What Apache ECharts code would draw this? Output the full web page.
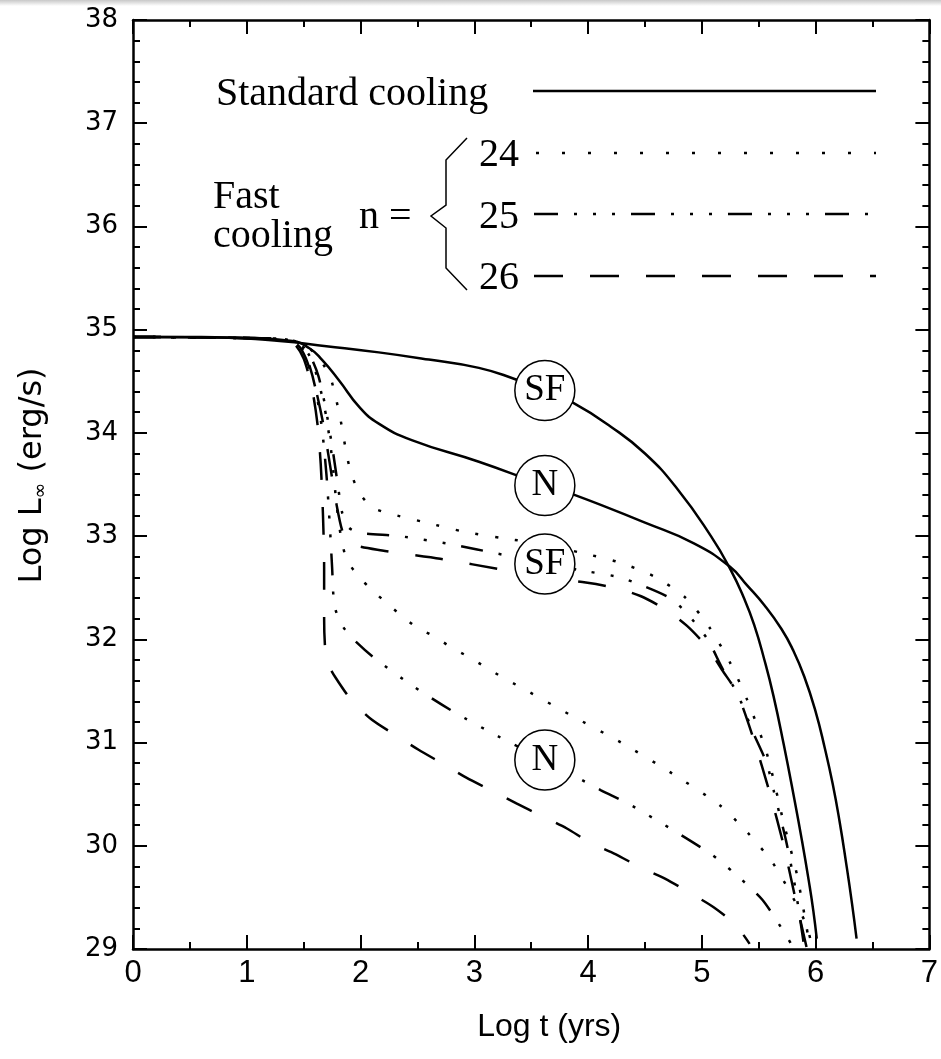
<!DOCTYPE html>
<html>
<head>
<meta charset="utf-8">
<script src="https://cdn.jsdelivr.net/npm/echarts@6/dist/echarts.min.js"></script>
<style>
html,body{margin:0;padding:0;background:#fff;}
#chart{width:941px;height:1059px;}
</style>
</head>
<body>
<div id="chart"></div>
<script>
// ---- data (Log t in yrs, Log L_inf in erg/s) ----
const xTicks = [0,1,2,3,4,5,6,7];
const yTicks = [29,30,31,32,33,34,35,36,37,38];

const stdSF = [[0,34.93],[0.6,34.93],[1.29,34.89],[1.7,34.84],[2.16,34.78],[2.6,34.71],[3.04,34.63],[3.36,34.52],[3.62,34.41],[3.87,34.29],[4.2,34.06],[4.5,33.80],[4.79,33.45],[5.08,33.00],[5.25,32.68],[5.37,32.40],[5.46,32.14],[5.55,31.80],[5.63,31.45],[5.72,30.98],[5.81,30.47],[5.88,30.05],[5.94,29.66],[5.98,29.37],[6.01,29.10]];
const stdN = [[0,34.93],[1,34.92],[1.4,34.89],[1.55,34.82],[1.66,34.71],[1.81,34.51],[1.99,34.25],[2.16,34.09],[2.45,33.93],[3.04,33.72],[3.62,33.49],[3.88,33.40],[4.5,33.13],[4.93,32.93],[5.25,32.70],[5.4,32.52],[5.55,32.33],[5.7,32.10],[5.8,31.90],[5.9,31.64],[6.0,31.30],[6.08,30.95],[6.15,30.60],[6.21,30.24],[6.27,29.82],[6.32,29.44],[6.36,29.10]];

const n24SF = [[0,34.93],[1.3,34.91],[1.45,34.88],[1.55,34.82],[1.65,34.7],[1.74,34.52],[1.82,34.15],[1.88,33.78],[1.92,33.60],[1.99,33.42],[2.10,33.28],[2.25,33.22],[2.58,33.13],[2.92,33.04],[3.25,32.98],[3.62,32.92],[3.93,32.84],[4.26,32.75],[4.58,32.61],[4.86,32.40],[5.07,32.11],[5.25,31.77],[5.40,31.41],[5.57,30.90],[5.72,30.22],[5.84,29.70],[5.95,29.02]];
const n25SF = [[0,34.93],[1.3,34.91],[1.45,34.87],[1.55,34.76],[1.63,34.55],[1.7,34.2],[1.76,33.8],[1.8,33.5],[1.84,33.22],[1.9,33.08],[2.0,33.03],[2.34,33.0],[2.8,32.92],[3.25,32.82],[3.62,32.74],[3.93,32.67],[4.24,32.61],[4.41,32.55],[4.72,32.40],[4.87,32.25],[5.05,32.0],[5.18,31.72],[5.31,31.48],[5.45,31.1],[5.57,30.80],[5.63,30.54],[5.74,30.05],[5.82,29.6],[5.9,29.02]];
const n26SF = [[0,34.93],[1.3,34.91],[1.45,34.85],[1.52,34.72],[1.6,34.45],[1.67,34.1],[1.73,33.7],[1.79,33.3],[1.84,33.05],[1.9,32.93],[2.19,32.86],[2.7,32.78],[3.27,32.67],[3.62,32.6],[3.98,32.55],[4.23,32.50],[4.46,32.42],[4.68,32.29],[4.87,32.13],[5.05,31.92],[5.18,31.70],[5.31,31.48],[5.45,31.05],[5.6,30.5],[5.72,30.0],[5.82,29.5],[5.92,29.02]];

const n24N = [[0,34.93],[1.3,34.91],[1.45,34.87],[1.55,34.75],[1.63,34.5],[1.7,34.15],[1.75,33.75],[1.79,33.3],[1.83,32.98],[1.88,32.77],[1.99,32.60],[2.10,32.48],[2.23,32.35],[2.36,32.23],[2.49,32.12],[2.66,32.02],[2.80,31.92],[2.95,31.83],[3.10,31.73],[3.25,31.63],[3.40,31.54],[3.84,31.27],[4.29,31.0],[4.74,30.70],[5.16,30.39],[5.40,30.13],[5.62,29.84],[5.79,29.52],[5.92,29.23],[5.97,29.02]];
const n25N = [[0,34.93],[1.3,34.91],[1.45,34.86],[1.53,34.72],[1.6,34.45],[1.66,34.05],[1.7,33.6],[1.73,33.1],[1.75,32.7],[1.77,32.33],[1.83,32.15],[1.92,32.02],[2.12,31.82],[2.47,31.54],[2.83,31.29],[3.21,31.06],[3.62,30.83],[4.11,30.54],[4.35,30.41],[4.72,30.17],[5.08,29.92],[5.28,29.74],[5.53,29.48],[5.73,29.15],[5.8,29.02]];
const n26N = [[0,34.93],[1.3,34.91],[1.42,34.86],[1.5,34.72],[1.57,34.45],[1.62,34.1],[1.65,33.7],[1.67,33.2],[1.68,32.7],[1.68,32.2],[1.69,31.9],[1.72,31.75],[1.78,31.63],[1.92,31.41],[2.10,31.22],[2.31,31.07],[2.51,30.93],[2.73,30.79],[2.93,30.66],[3.16,30.53],[3.37,30.41],[3.59,30.29],[3.81,30.17],[4.02,30.03],[4.24,29.92],[4.46,29.79],[4.68,29.68],[4.90,29.54],[5.11,29.40],[5.30,29.23],[5.42,29.05]];

const circleLabels = [[3.62,34.41,'SF'],[3.62,33.49,'N'],[3.62,32.73,'SF'],[3.62,30.83,'N']];

// ---- styles ----
const DOT = [3,17];
const DASHDOT = [22,16,3,16,3,16,3,16];
const DASH = [28,27];
const LEG_DOT = [3,23];
const LEG_DASHDOT = [24,16,3,16,3,16,3,16];
const LEG_DASH = [29,27];

function lineSeries(data, dash, smooth){
  return {
    type:'line', data:data, showSymbol:false, symbol:'none', smooth:smooth||0.25,
    lineStyle:{color:'#000', width:2.5, type: dash ? dash : 'solid', cap:'butt'},
    z: 2, silent:true, clip:true
  };
}

function axisLine(){ return {show:true, onZero:false, lineStyle:{color:'#000', width:2.5}}; }
function tick(){ return {show:true, inside:true, length:14, lineStyle:{color:'#000', width:2}}; }
function minor(n){ return {show:true, splitNumber:n, length:7, lineStyle:{color:'#000', width:2}}; }

const chart = echarts.init(document.getElementById('chart'), null, {renderer:'canvas'});
const option = {
  backgroundColor:'#fff',
  animation:false,
  grid:{left:133, right:8, top:20, bottom:110, containLabel:false},
  xAxis:[
    {type:'value', min:xTicks[0], max:xTicks[xTicks.length-1], interval:1, position:'bottom',
     axisLine:axisLine(), axisTick:tick(), minorTick:minor(2), splitLine:{show:false},
     axisLabel:{color:'#000', fontSize:31, fontFamily:'Liberation Sans', margin:9},
     name:'Log t (yrs)', nameLocation:'middle', nameGap:62,
     nameTextStyle:{color:'#000', fontSize:32, fontFamily:'Liberation Sans', padding:[0,0,0,36]}},
    {type:'value', min:xTicks[0], max:xTicks[xTicks.length-1], interval:1, position:'top',
     axisLine:axisLine(), axisTick:tick(), minorTick:minor(2), splitLine:{show:false},
     axisLabel:{show:false}}
  ],
  yAxis:[
    {type:'value', min:yTicks[0], max:yTicks[yTicks.length-1], interval:1, position:'left',
     axisLine:axisLine(), axisTick:tick(), minorTick:minor(5), splitLine:{show:false},
     axisLabel:{color:'#000', fontSize:26, fontFamily:'DejaVu Sans', margin:15},
     name:'{a|Log L}{s|∞}{a| (erg/s)}', nameLocation:'middle', nameGap:82, nameRotate:90,
     nameTextStyle:{color:'#000', padding:[0,0,0,18], rich:{a:{fontSize:32, fontFamily:'DejaVu Sans'}, s:{fontSize:19, fontFamily:'DejaVu Sans', verticalAlign:'bottom', padding:[18,0,0,0]}}}},
    {type:'value', min:yTicks[0], max:yTicks[yTicks.length-1], interval:1, position:'right',
     axisLine:axisLine(), axisTick:tick(), minorTick:minor(5), splitLine:{show:false},
     axisLabel:{show:false}}
  ],
  series:[
    lineSeries(stdSF, null, 0.5), lineSeries(stdN, null, 0.5),
    lineSeries(n24SF, DOT), lineSeries(n25SF, DASHDOT), lineSeries(n26SF, DASH),
    lineSeries(n24N, DOT), lineSeries(n25N, DASHDOT), lineSeries(n26N, DASH),
    {type:'scatter', data:circleLabels, symbol:'circle', symbolSize:60, z:10, silent:true,
     itemStyle:{color:'#fff', borderColor:'#000', borderWidth:1.5, opacity:1},
     label:{show:true, position:'inside', formatter:function(p){return p.value[2];},
            color:'#000', fontSize:37, fontFamily:'Liberation Serif'}}
  ],
  graphic:[
    {type:'rect', shape:{x:0,y:0,width:941,height:6}, style:{fill:new echarts.graphic.LinearGradient(0,0,0,1,[{offset:0,color:'#c8c8c8'},{offset:1,color:'#ffffff'}])}, silent:true},
    {type:'text', left:216, top:74, style:{text:'Standard cooling', font:'40px "Liberation Serif"', fill:'#000'}},
    {type:'line', shape:{x1:533,y1:91,x2:876,y2:91}, style:{stroke:'#000', lineWidth:2.5}},
    {type:'text', left:213, top:177, style:{text:'Fast', font:'40px "Liberation Serif"', fill:'#000'}},
    {type:'text', left:213, top:216, style:{text:'cooling', font:'40px "Liberation Serif"', fill:'#000'}},
    {type:'text', left:359, top:197, style:{text:'n =', font:'40px "Liberation Serif"', fill:'#000'}},
    {type:'polyline', shape:{points:[[467,138],[446,160],[446,205],[431,216],[446,228],[446,268],[467,290]]}, style:{stroke:'#000', lineWidth:1.5, fill:null}},
    {type:'text', left:479, top:135, style:{text:'24', font:'40px "Liberation Serif"', fill:'#000'}},
    {type:'line', shape:{x1:536,y1:153,x2:876,y2:153}, style:{stroke:'#000', lineWidth:2.5, lineDash:LEG_DOT}},
    {type:'text', left:479, top:197, style:{text:'25', font:'40px "Liberation Serif"', fill:'#000'}},
    {type:'line', shape:{x1:534,y1:214,x2:876,y2:214}, style:{stroke:'#000', lineWidth:2.5, lineDash:LEG_DASHDOT}},
    {type:'text', left:479, top:258, style:{text:'26', font:'40px "Liberation Serif"', fill:'#000'}},
    {type:'line', shape:{x1:534,y1:276,x2:876,y2:276}, style:{stroke:'#000', lineWidth:2.5, lineDash:LEG_DASH}}
  ]
};
chart.setOption(option);
</script>
</body>
</html>
